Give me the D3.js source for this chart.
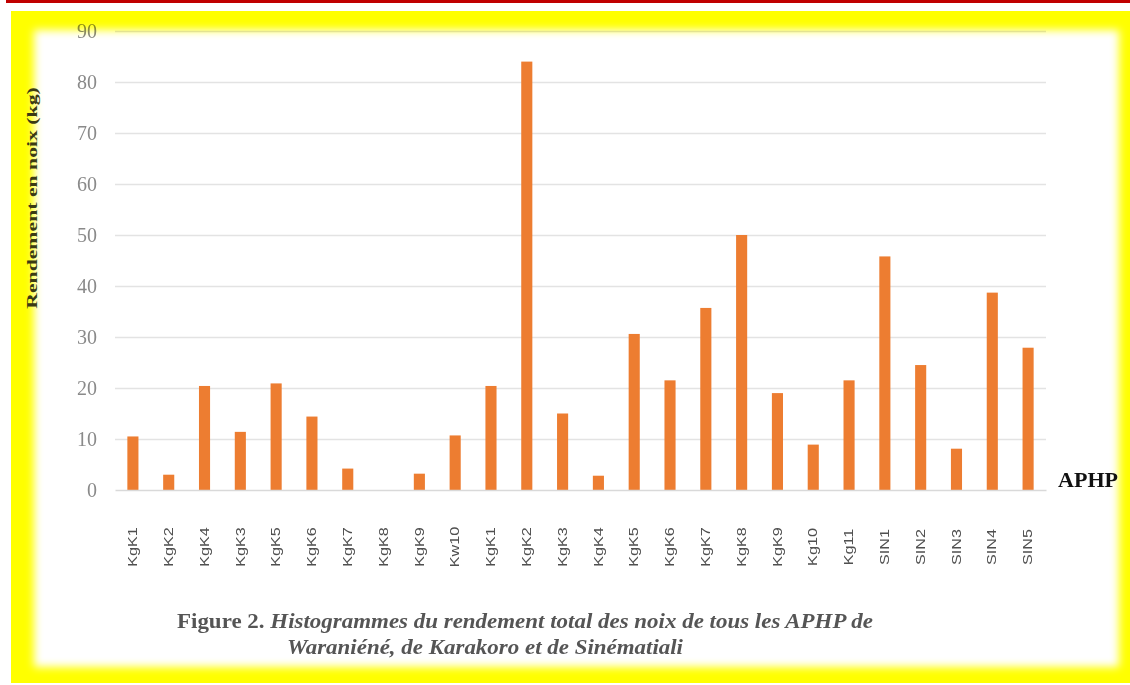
<!DOCTYPE html>
<html>
<head>
<meta charset="utf-8">
<script src="https://cdn.jsdelivr.net/npm/d3@7/dist/d3.min.js"></script>
<style>
  html, body { margin: 0; padding: 0; background: #fff; }
  svg { display: block; }
</style>
</head>
<body>
<svg id="chart" width="1130" height="685"></svg>
<script>
// Yield per APHP (kg of nuts)
const categories = ["KgK1","KgK2","KgK4","KgK3","KgK5","KgK6","KgK7","KgK8","KgK9","Kw10",
                    "KgK1","KgK2","KgK3","KgK4","KgK5","KgK6","KgK7","KgK8","KgK9","Kg10",
                    "Kg11","SIN1","SIN2","SIN3","SIN4","SIN5"];
const yields = [10.5, 3, 20.4, 11.4, 20.9, 14.4, 4.2, 0, 3.2, 10.7,
                20.4, 84, 15, 2.8, 30.6, 21.5, 35.7, 50, 19, 8.9,
                21.5, 45.8, 24.5, 8.1, 38.7, 27.9];
const yTicks = [0, 10, 20, 30, 40, 50, 60, 70, 80, 90];
const yTitle = "Rendement en noix (kg)";
const xTitle = "APHP";
const captionLead = "Figure 2. ";
const captionLine1 = "Histogrammes du rendement total des noix de tous les APHP de";
const captionLine2 = "Waraniéné, de Karakoro et de Sinématiali";

const svg = d3.select("#chart");
const defs = svg.append("defs");

// thin red rule across the top
svg.append("rect").attr("x", 6).attr("y", 0).attr("width", 1124).attr("height", 3).attr("fill", "#c00000");

// soft yellow frame: yellow panel with a blurred white centre
defs.append("filter").attr("id", "soft")
  .attr("x", "-5%").attr("y", "-8%").attr("width", "110%").attr("height", "116%")
  .append("feGaussianBlur").attr("stdDeviation", 4.5);
const frame = svg.append("g");
frame.append("rect").attr("x", 11).attr("y", 11).attr("width", 1119).attr("height", 672).attr("fill", "#ffff00");
frame.append("rect").attr("x", 34).attr("y", 30).attr("width", 1119 - 34).attr("height", 667 - 30)
  .attr("fill", "#ffffff").attr("filter", "url(#soft)");

// chart layer multiplies onto the frame
const g = svg.append("g").style("mix-blend-mode", "multiply");

const x = d3.scaleBand()
  .domain(d3.range(categories.length))
  .range([115, 1046])
  .paddingInner(0.69)
  .paddingOuter(0.345);

const y = d3.scaleLinear().domain([0, 90]).range([490, 31]);

// horizontal gridlines
g.append("g")
  .attr("transform", "translate(115,0)")
  .call(d3.axisLeft(y).tickValues(yTicks.slice(1)).tickSize(-931).tickFormat(""))
  .call(a => a.select(".domain").remove())
  .call(a => a.selectAll("line").attr("stroke", "#e3e3e3").attr("stroke-width", 1.6));

// y tick labels
g.append("g")
  .attr("transform", "translate(115,0)")
  .call(d3.axisLeft(y).tickValues(yTicks).tickSize(0).tickPadding(18))
  .call(a => a.select(".domain").remove())
  .call(a => a.selectAll("text")
    .attr("fill", "#8a8a8a")
    .style("font-family", "'Liberation Serif', 'DejaVu Serif', serif")
    .style("font-size", "20px"));

// bars
g.append("g").selectAll("rect")
  .data(yields)
  .join("rect")
  .attr("x", (d, i) => x(i))
  .attr("width", x.bandwidth())
  .attr("y", d => y(d))
  .attr("height", d => y(0) - y(d))
  .attr("fill", "#ed7d31");

// category axis
g.append("g")
  .attr("transform", "translate(0,490)")
  .call(d3.axisBottom(x).tickSize(0).tickFormat(i => categories[i]))
  .call(a => a.select(".domain").attr("stroke", "#d9d9d9").attr("stroke-width", 1.6))
  .call(a => a.selectAll("text")
    .attr("x", 0).attr("y", 0).attr("dy", "0.35em")
    .attr("text-anchor", "middle")
    .attr("transform", "translate(0,57) rotate(-90) scale(1.35,1)")
    .attr("fill", "#505050")
    .style("font-family", "'Liberation Sans', Arial, sans-serif")
    .style("font-size", "12px"));

// axis titles
svg.append("text")
  .attr("transform", "translate(32,198) rotate(-90) scale(1.45,1)")
  .attr("text-anchor", "middle")
  .attr("dy", "0.35em")
  .attr("fill", "#3b3b12")
  .style("font-family", "'Liberation Serif', serif")
  .style("font-weight", "bold")
  .style("font-size", "15px")
  .text(yTitle);

svg.append("text")
  .attr("x", 1058).attr("y", 487)
  .attr("fill", "#111")
  .style("font-family", "'Liberation Serif', serif")
  .style("font-weight", "bold")
  .style("font-size", "20px")
  .attr("textLength", 60)
  .attr("lengthAdjust", "spacingAndGlyphs")
  .text(xTitle);

// figure caption
const cap = svg.append("g")
  .attr("fill", "#555")
  .style("font-family", "'Liberation Serif', serif")
  .style("font-weight", "bold")
  .style("font-size", "22px");
const l1 = cap.append("text").attr("x", 177).attr("y", 628)
  .attr("textLength", 696).attr("lengthAdjust", "spacingAndGlyphs");
l1.append("tspan").text(captionLead);
l1.append("tspan").style("font-style", "italic").text(captionLine1);
cap.append("text").attr("x", 287).attr("y", 654)
  .attr("textLength", 396).attr("lengthAdjust", "spacingAndGlyphs")
  .style("font-style", "italic")
  .text(captionLine2);
</script>
</body>
</html>
